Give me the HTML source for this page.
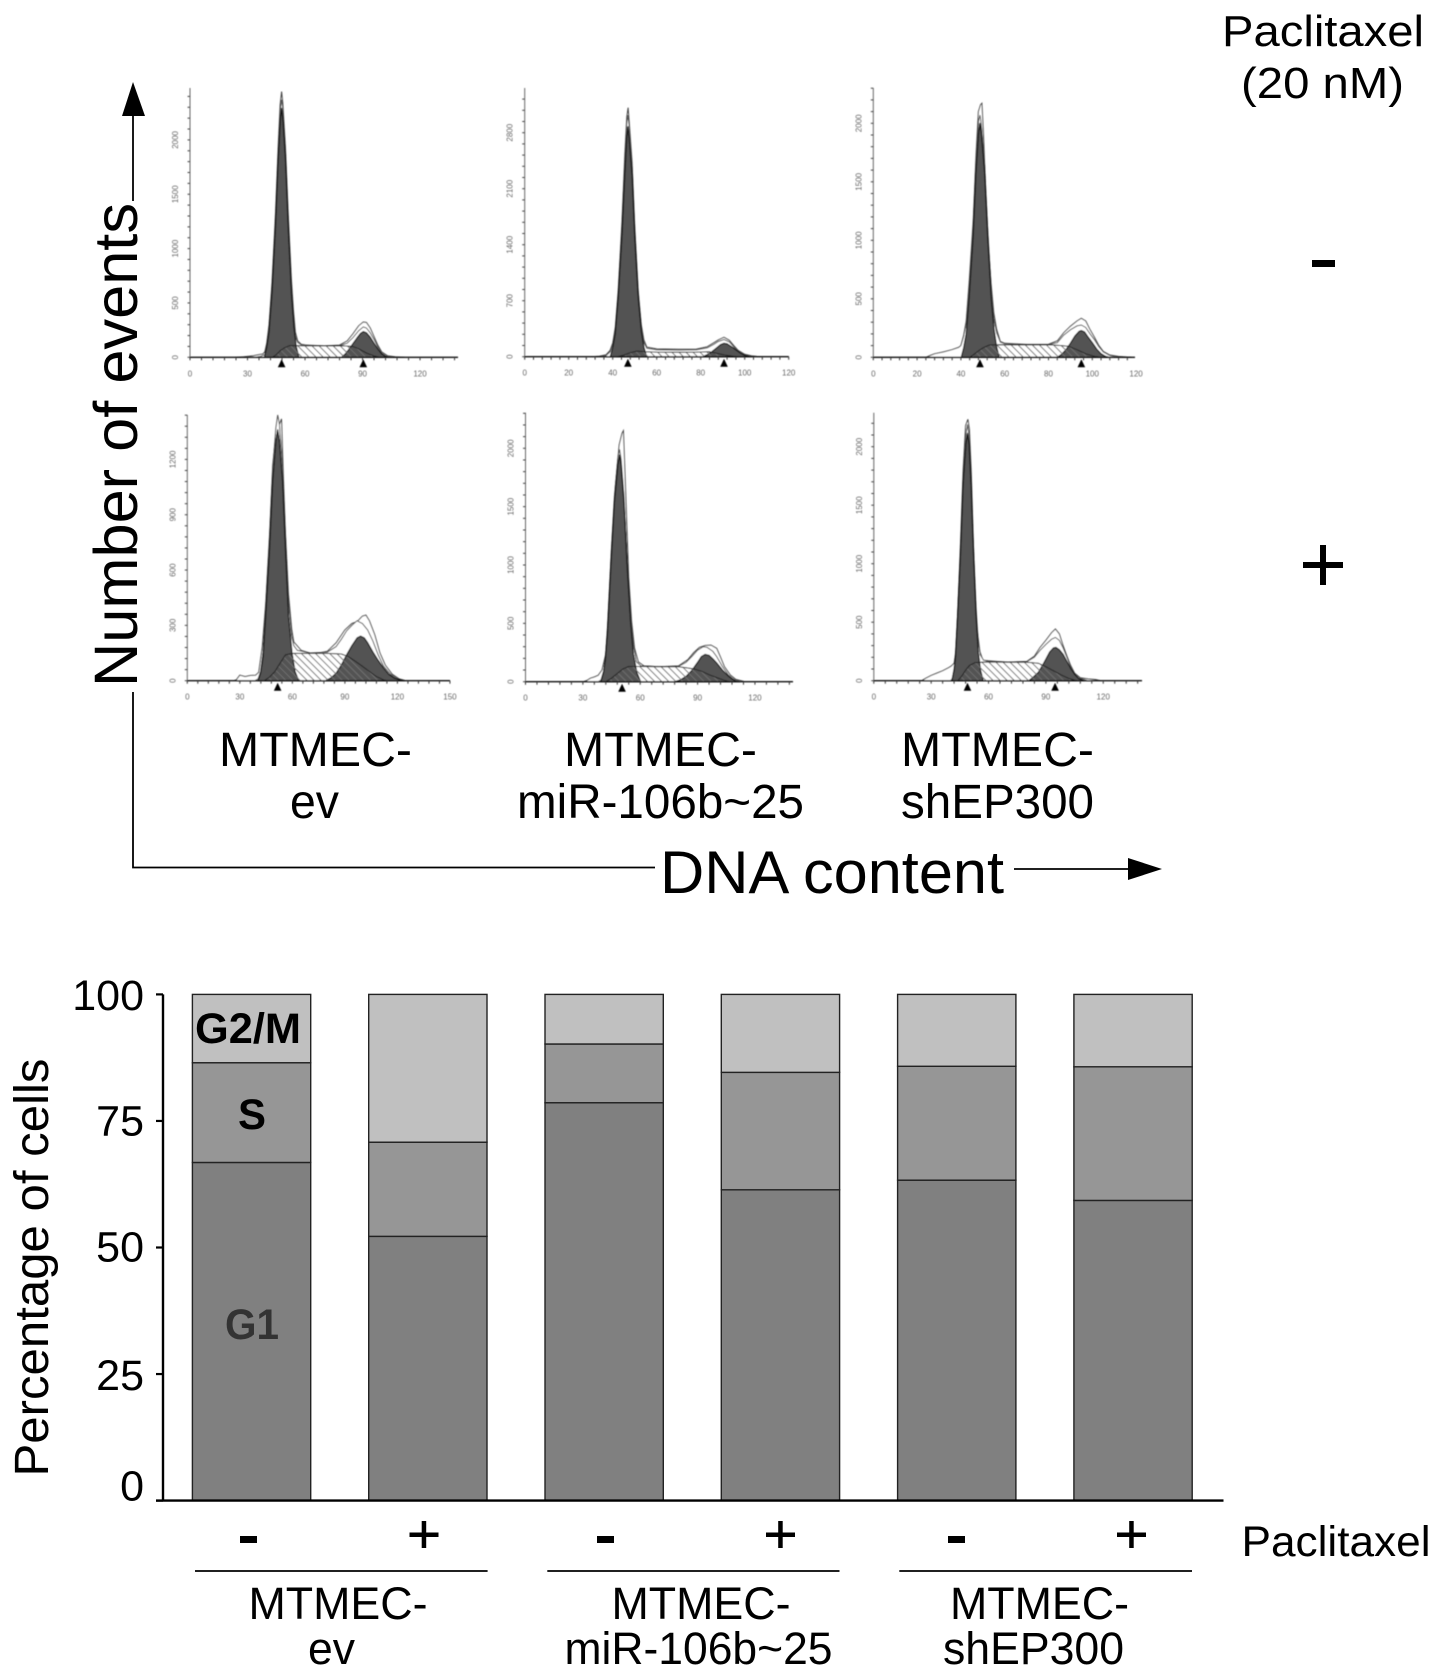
<!DOCTYPE html>
<html lang="en">
<head>
<meta charset="utf-8">
<title>Cell cycle analysis</title>
<style>
html,body{margin:0;padding:0;background:#fff}
svg{display:block}
text{font-family:"Liberation Sans",sans-serif;fill:#000}
</style>
</head>
<body>
<svg id="fig" xmlns="http://www.w3.org/2000/svg" width="1441" height="1677" viewBox="0 0 1441 1677">
<defs>
<pattern id="hatch" width="5" height="5" patternUnits="userSpaceOnUse" patternTransform="rotate(-45)">
<line x1="1" y1="0" x2="1" y2="5" stroke="#6e6e6e" stroke-width="1"/>
</pattern>
<filter id="soft" x="-5%" y="-5%" width="110%" height="110%"><feGaussianBlur stdDeviation="0.4"/></filter>
</defs>
<rect width="1441" height="1677" fill="#fff"/>

<g id="histograms" filter="url(#soft)"></g>

<!-- Upper panel annotations -->
<text x="1222" y="46" font-size="44" textLength="202" lengthAdjust="spacingAndGlyphs">Paclitaxel</text>
<text x="1241" y="98" font-size="44" textLength="163" lengthAdjust="spacingAndGlyphs">(20 nM)</text>
<rect x="1312" y="260" width="23" height="7" fill="#000"/>
<g>
<rect x="1303" y="562" width="40" height="6" fill="#000"/>
<rect x="1320" y="545" width="6" height="40" fill="#000"/>
</g>
<text transform="translate(137,687) rotate(-90)" font-size="61" textLength="484" lengthAdjust="spacingAndGlyphs">Number of events</text>
<line x1="133" y1="116" x2="133" y2="201" stroke="#000" stroke-width="1.8"/>
<polygon points="133,82 145,116 122,116" fill="#000"/>
<polyline points="133,692 133,867.5 655,867.5" fill="none" stroke="#000" stroke-width="1.8"/>
<text x="660" y="893" font-size="60" textLength="344" lengthAdjust="spacingAndGlyphs">DNA content</text>
<line x1="1014" y1="869" x2="1129" y2="869" stroke="#000" stroke-width="1.8"/>
<polygon points="1162,869 1128,858 1128,880" fill="#000"/>

<g font-size="48">
<text x="219" y="766" textLength="193" lengthAdjust="spacingAndGlyphs">MTMEC-</text>
<text x="290" y="818" textLength="49" lengthAdjust="spacingAndGlyphs">ev</text>
<text x="564" y="766" textLength="193" lengthAdjust="spacingAndGlyphs">MTMEC-</text>
<text x="517" y="818" textLength="287" lengthAdjust="spacingAndGlyphs">miR-106b~25</text>
<text x="901" y="766" textLength="193" lengthAdjust="spacingAndGlyphs">MTMEC-</text>
<text x="901" y="818" textLength="193" lengthAdjust="spacingAndGlyphs">shEP300</text>
</g>

<g id="bar-chart"></g>

<!-- Lower chart labels -->
<text transform="translate(48,1476.5) rotate(-90)" font-size="48" textLength="418" lengthAdjust="spacingAndGlyphs">Percentage of cells</text>
<text x="195" y="1043" font-size="43" font-weight="bold" textLength="106" lengthAdjust="spacingAndGlyphs">G2/M</text>
<text x="238" y="1129" font-size="43" font-weight="bold" textLength="28" lengthAdjust="spacingAndGlyphs">S</text>
<text x="225" y="1339" font-size="43" font-weight="bold" style="fill:#333" textLength="54" lengthAdjust="spacingAndGlyphs">G1</text>

<g>
<rect x="240" y="1536" width="17" height="7" fill="#000"/>
<rect x="597" y="1536" width="17" height="7" fill="#000"/>
<rect x="948" y="1536" width="17" height="7" fill="#000"/>
<rect x="409.5" y="1532.5" width="29" height="4.5" fill="#000"/><rect x="421.7" y="1521" width="4.5" height="27" fill="#000"/>
<rect x="766" y="1532.5" width="29" height="4.5" fill="#000"/><rect x="778.2" y="1521" width="4.5" height="27" fill="#000"/>
<rect x="1117" y="1532.5" width="29" height="4.5" fill="#000"/><rect x="1129.2" y="1521" width="4.5" height="27" fill="#000"/>
</g>
<text x="1241.5" y="1556" font-size="43" textLength="189" lengthAdjust="spacingAndGlyphs">Paclitaxel</text>
<g stroke="#000" stroke-width="1.8">
<line x1="195" y1="1571" x2="487.6" y2="1571"/>
<line x1="547.3" y1="1571" x2="839.5" y2="1571"/>
<line x1="899.3" y1="1571" x2="1192" y2="1571"/>
</g>
<g font-size="45">
<text x="248.5" y="1619" textLength="179" lengthAdjust="spacingAndGlyphs">MTMEC-</text>
<text x="308" y="1664" textLength="47" lengthAdjust="spacingAndGlyphs">ev</text>
<text x="611.5" y="1619" textLength="179" lengthAdjust="spacingAndGlyphs">MTMEC-</text>
<text x="564.5" y="1664" textLength="268" lengthAdjust="spacingAndGlyphs">miR-106b~25</text>
<text x="950" y="1619" textLength="179" lengthAdjust="spacingAndGlyphs">MTMEC-</text>
<text x="943" y="1664" textLength="181" lengthAdjust="spacingAndGlyphs">shEP300</text>
</g>
</svg>

<script>
// ===== Stacked bar data (percent of cells) =====
const barCategories = ["ev -", "ev +", "miR -", "miR +", "shEP300 -", "shEP300 +"];
const g1Values = [66.8, 52.2, 78.6, 61.4, 63.3, 59.3];
const sValues = [19.7, 18.6, 11.6, 23.2, 22.5, 26.4];
const g2mValues = [13.5, 29.2, 9.8, 15.4, 14.2, 14.3];
const barTickValues = [100, 75, 50, 25, 0];
const barTickLabels = ["100", "75", "50", "25", "0"];

// ===== Histogram data: [channel, count] pairs =====
const evMinusG1 = [[38.8,0],[40,90],[41.2,230],[42.8,590],[44.6,1200],[46,1815],[47.2,2200],[47.8,2290],[48.4,2200],[49.8,1815],[51.2,1200],[52.9,590],[54.2,280],[55.4,100],[56.8,0]];
const evMinusS = [[43,0],[45,25],[47,60],[49,85],[52,108],[56,108],[60,105],[70,104],[80,105],[85,100],[88,78],[92,40],[96,12],[99,0]];
const evMinusG2 = [[79,0],[81,30],[83,75],[85,125],[87,175],[89,220],[90.4,236],[92,225],[94,185],[96,130],[98,75],[100,30],[102,8],[104,0]];
const evMinusFit = [[34,0],[37,10],[39,25],[40,110],[41.2,270],[42.8,640],[44.6,1270],[46,1880],[47.2,2290],[47.8,2370],[48.4,2290],[49.8,1880],[51.2,1270],[52.9,650],[54,360],[55,190],[56.2,135],[58,115],[70,105],[78,107],[82,130],[85,180],[88,245],[90.4,280],[92,270],[94,225],[96,165],[98,95],[100,40],[102,15],[106,0]];
const evMinusRaw = [[24,0],[28,5],[33,15],[36,25],[38,30],[39,50],[40,130],[41.2,300],[42.8,690],[44.6,1330],[46,1950],[47,2320],[47.8,2445],[48.4,2340],[49.8,1930],[51.2,1330],[52.9,720],[54,430],[55,230],[56.2,150],[58,120],[62,108],[70,105],[78,112],[82,150],[85,215],[88,290],[90.4,325],[92,320],[94,270],[96,190],[98,110],[100,50],[103,15],[107,5],[112,0]];

const miRMinusG1 = [[38.9,0],[40,110],[41.2,290],[42.5,740],[44.2,1500],[45.5,2270],[46.4,2750],[46.9,2875],[47.4,2750],[48.8,2270],[50,1500],[51.6,740],[53,320],[54.2,120],[55.4,0]];
const miRMinusS = [[42,0],[45,20],[48,50],[51,70],[55,62],[60,58],[70,56],[78,58],[84,62],[87,45],[91,20],[95,5],[97,0]];
const miRMinusG2 = [[81,0],[83,25],[85,60],[87,105],[89,150],[90.6,167],[92,160],[94,125],[96,85],[98,45],[100,18],[102,5],[104,0]];
const miRMinusFit = [[33,0],[37,15],[38.8,60],[40,150],[41.2,330],[42.5,790],[44.2,1600],[45.5,2450],[46.4,2920],[46.9,3020],[47.4,2900],[48.8,2380],[50,1600],[51.6,800],[53,370],[54.2,180],[55.5,105],[60,85],[70,82],[78,85],[83,110],[86,155],[88,190],[90.6,215],[93,185],[95,125],[97,70],[100,25],[103,8],[107,0]];
const miRMinusRaw = [[30,0],[34,8],[37,25],[38.8,80],[40,170],[41.2,370],[42.5,830],[44.2,1680],[45.5,2530],[46.4,3000],[47,3112],[47.6,2900],[48.8,2430],[50,1650],[51.6,830],[53,400],[54.2,210],[55.5,120],[60,98],[70,92],[78,95],[83,125],[86,175],[88,210],[90.6,242],[93,205],[95,140],[97,80],[100,30],[103,12],[107,0]];

const shMinusG1 = [[40.2,0],[41.3,80],[42.4,200],[43.8,520],[45.6,1040],[46.9,1580],[48.1,1920],[48.7,2000],[49.3,1920],[50.8,1580],[52.2,1040],[53.8,520],[55.1,240],[56.3,90],[57.5,0]];
const shMinusS = [[44,0],[46,25],[48,55],[50,80],[53,105],[58,108],[65,105],[75,105],[82,105],[86,100],[89,95],[93,65],[97,30],[101,8],[104,0]];
const shMinusG2 = [[84,0],[86,25],[88,65],[90,120],[92,180],[94,222],[95,228],[96.5,215],[98,175],[100,125],[102,70],[104,30],[106,8],[108,0]];
const shMinusFit = [[24,0],[26,15],[28,30],[32,45],[36,65],[39,85],[40,100],[41.3,180],[42.4,290],[43.8,620],[45.6,1130],[46.9,1680],[48.1,2020],[48.7,2070],[49.3,1990],[50.8,1650],[52.2,1110],[53.8,600],[55,330],[56.3,210],[58,130],[60,115],[70,108],[80,108],[84,125],[87,190],[90,235],[93,268],[95,276],[97,255],[99,200],[101,150],[103,90],[105,45],[108,15],[112,3],[118,0]];
const shMinusRaw = [[24,0],[26,15],[28,30],[32,45],[36,65],[39,85],[40,100],[41.3,190],[42.4,310],[43.8,650],[45.6,1170],[46.9,1730],[48,2100],[49,2160],[49.6,2171],[50.3,1900],[51.3,1450],[52.6,950],[53.8,630],[55,380],[56.3,240],[58,135],[60,120],[70,110],[80,112],[84,140],[87,210],[90,265],[93,310],[95,333],[97,310],[99,235],[101,170],[103,100],[105,50],[108,20],[112,8],[118,0]];

const evPlusG1 = [[40.4,0],[41.8,40],[43.3,130],[44.8,350],[47,720],[48.8,1080],[50.6,1300],[51.6,1360],[52.6,1300],[54.4,1080],[56,720],[57.8,350],[59.8,150],[61.5,50],[63.6,0]];
const evPlusS = [[44,0],[47,20],[50,50],[53,95],[56,140],[60,148],[70,148],[80,148],[88,145],[92,130],[96,105],[100,78],[104,50],[108,22],[112,5],[114,0]];
const evPlusG2 = [[79,0],[82,15],[85,40],[88,85],[91,140],[94,190],[97,232],[99,242],[101,232],[103,205],[106,155],[109,110],[112,70],[115,35],[118,15],[122,3],[124,0]];
const evPlusFit = [[38.5,0],[40.4,10],[41.8,50],[43.3,160],[44.8,400],[47,780],[48.8,1150],[50.6,1370],[51.6,1441],[52.6,1390],[54.4,1160],[56,790],[57.8,430],[59.6,240],[60.8,190],[62.8,165],[70,150],[80,155],[85,185],[88,225],[91,270],[94,300],[97,325],[100,310],[103,275],[106,215],[109,140],[112,80],[116,35],[120,10],[124,0]];
const evPlusRaw = [[26,0],[28,5],[30,30],[33,22],[36,28],[39,30],[40.8,45],[42.8,180],[44.8,420],[47,800],[48.8,1170],[50.6,1340],[51.8,1400],[52.8,1395],[53.8,1420],[54.8,1120],[56,810],[57.8,470],[59.6,280],[60.8,210],[65,165],[70,150],[75,150],[80,160],[85,205],[90,275],[94,310],[97,320],[100,350],[102,356],[104,325],[107,250],[110,150],[113,85],[117,35],[121,10],[125,0]];

const miRPlusG1 = [[39.4,0],[40.8,80],[41.8,190],[42.9,420],[44.7,1010],[46.5,1535],[48.4,1865],[49.2,1943],[50,1865],[51.5,1535],[53.1,1010],[54.9,520],[56.4,240],[58.2,80],[60.2,0]];
const miRPlusS = [[42,0],[45,30],[48,70],[51,110],[54,130],[60,130],[70,128],[80,128],[84,120],[88,110],[92,90],[96,60],[100,35],[104,12],[107,0]];
const miRPlusG2 = [[78,0],[81,15],[84,45],[87,95],[90,165],[92,215],[94,234],[96,225],[98,195],[100,160],[103,100],[106,50],[108,22],[110,5],[112,0]];
const miRPlusFit = [[38,0],[39.5,15],[40.8,90],[41.8,210],[42.9,450],[44.7,1060],[46.5,1590],[48.4,1930],[49.2,1990],[50,1910],[51.5,1590],[53.1,1070],[54.9,600],[56.4,320],[58,170],[60.4,135],[70,128],[80,130],[84,165],[87,215],[90,270],[93,300],[95,295],[98,260],[100,215],[103,130],[106,60],[109,20],[113,0]];
const miRPlusRaw = [[30,0],[32,10],[34,30],[36,40],[38,55],[40,100],[42,240],[43,500],[45,1150],[47,1680],[49,2030],[50.5,2130],[51.2,2151],[52,1800],[53,1350],[54,900],[55.5,520],[57,290],[59,170],[62,135],[70,128],[80,135],[85,190],[88,250],[91,295],[94,310],[97,314],[100,285],[102,210],[104,130],[107,60],[110,20],[115,0]];

const shPlusG1 = [[40.8,0],[42,90],[42.8,210],[43.9,550],[45.4,1100],[46.7,1670],[48.2,2030],[49,2114],[49.8,2030],[50.9,1670],[52.1,1100],[53.5,550],[54.6,250],[55.8,90],[57.2,0]];
const shPlusS = [[44,0],[46,40],[48,90],[50,130],[53,155],[58,160],[70,158],[80,158],[86,150],[90,120],[94,85],[98,50],[102,20],[106,0]];
const shPlusG2 = [[81,0],[83,25],[86,70],[88,125],[90,185],[92,245],[94,280],[95.2,285],[97,265],[99,225],[101,165],[103,105],[105,55],[107,20],[110,0]];
const shPlusFit = [[40,0],[41,15],[42,110],[42.8,240],[43.9,590],[45.4,1150],[46.7,1730],[48.2,2110],[49,2190],[49.8,2100],[50.9,1730],[52.1,1160],[53.5,620],[54.6,340],[55.7,220],[57.4,175],[60,165],[70,160],[80,162],[84,200],[87,260],[90,310],[93,355],[95,370],[97,345],[99,280],[101,200],[103,120],[105,60],[108,20],[112,0]];
const shPlusRaw = [[25,0],[27,20],[30,45],[33,65],[36,85],[39,110],[40.5,125],[42,150],[43,260],[44,620],[45.4,1200],[46.7,1800],[48,2180],[49.2,2234],[50,2150],[51,1780],[52,1230],[53,750],[54,450],[55.5,250],[57,175],[60,170],[70,158],[80,165],[84,210],[87,285],[90,345],[93,410],[95,442],[97,400],[99,300],[101,210],[103,130],[105,65],[108,25],[112,15],[116,10],[119,0]];

// Peak-marker channels and axis tick values per panel
const evMinusPeaks = [47.8, 90.4];
const miRMinusPeaks = [46.9, 90.6];
const shMinusPeaks = [48.7, 95];
const evPlusPeaks = [51.6];
const miRPlusPeaks = [50.5];
const shPlusPeaks = [49, 94.8];
const evMinusXTicks = [0, 30, 60, 90, 120];
const evPlusXTicks = [0, 30, 60, 90, 120, 150];
const byTwentyXTicks = [0, 20, 40, 60, 80, 100, 120];
const byThirtyXTicks = [0, 30, 60, 90, 120];
const evMinusYTicks = [0, 500, 1000, 1500, 2000];
const miRMinusYTicks = [0, 700, 1400, 2100, 2800];
const shMinusYTicks = [0, 500, 1000, 1500, 2000];
const evPlusYTicks = [0, 300, 600, 900, 1200];
const miRPlusYTicks = [0, 500, 1000, 1500, 2000];
const shPlusYTicks = [0, 500, 1000, 1500, 2000];

const SVGNS = "http://www.w3.org/2000/svg";
function make(parent, tag, attrs, text) {
  const el = document.createElementNS(SVGNS, tag);
  for (const k in attrs) el.setAttribute(k, attrs[k]);
  if (text !== undefined) el.textContent = text;
  parent.appendChild(el);
  return el;
}

// ===== Histogram panels =====
const panels = [
  {name:"ev-untreated", x0:190, xPer:1.917, y0:357.3, yPer:0.1087, top:88, xEnd:458, minorX:6, minorY:100,
   g1:evMinusG1, s:evMinusS, g2:evMinusG2, fit:evMinusFit, raw:evMinusRaw, peaks:evMinusPeaks, xTicks:evMinusXTicks, yTicks:evMinusYTicks},
  {name:"mir-untreated", x0:524.7, xPer:2.2, y0:356.7, yPer:0.08, top:88, xEnd:788.8, minorX:4, minorY:140,
   g1:miRMinusG1, s:miRMinusS, g2:miRMinusG2, fit:miRMinusFit, raw:miRMinusRaw, peaks:miRMinusPeaks, xTicks:byTwentyXTicks, yTicks:miRMinusYTicks},
  {name:"sh-untreated", x0:873.3, xPer:2.19, y0:357.3, yPer:0.117, top:88, xEnd:1135, minorX:4, minorY:100,
   g1:shMinusG1, s:shMinusS, g2:shMinusG2, fit:shMinusFit, raw:shMinusRaw, peaks:shMinusPeaks, xTicks:byTwentyXTicks, yTicks:shMinusYTicks},
  {name:"ev-paclitaxel", x0:187.3, xPer:1.751, y0:680.7, yPer:0.1844, top:415, xEnd:450, minorX:6, minorY:60,
   g1:evPlusG1, s:evPlusS, g2:evPlusG2, fit:evPlusFit, raw:evPlusRaw, peaks:evPlusPeaks, xTicks:evPlusXTicks, yTicks:evPlusYTicks},
  {name:"mir-paclitaxel", x0:525.5, xPer:1.912, y0:681.7, yPer:0.1167, top:412.7, xEnd:793, minorX:6, minorY:100,
   g1:miRPlusG1, s:miRPlusS, g2:miRPlusG2, fit:miRPlusFit, raw:miRPlusRaw, peaks:miRPlusPeaks, xTicks:byThirtyXTicks, yTicks:miRPlusYTicks},
  {name:"sh-paclitaxel", x0:873.8, xPer:1.912, y0:680.7, yPer:0.117, top:412.7, xEnd:1142, minorX:6, minorY:100,
   g1:shPlusG1, s:shPlusS, g2:shPlusG2, fit:shPlusFit, raw:shPlusRaw, peaks:shPlusPeaks, xTicks:byThirtyXTicks, yTicks:shPlusYTicks}
];

const histRoot = document.getElementById("histograms");
panels.forEach(function (p) {
  const xScale = function (ch) { return p.x0 + ch * p.xPer; };
  const yScale = function (n) { return p.y0 - n * p.yPer; };
  const toPoints = function (series) {
    return series.map(function (d) { return xScale(d[0]).toFixed(1) + "," + yScale(d[1]).toFixed(1); }).join(" ");
  };
  const g = make(histRoot, "g", {});
  
  

  // y axis with minor ticks
  const yAxis = make(g, "line", {x1:p.x0, y1:p.top, x2:p.x0, y2:p.y0, stroke:"#666", "stroke-width":1});
  
  
  const maxCount = (p.y0 - p.top) / p.yPer;
  for (let n = 0; n <= maxCount; n += p.minorY) {
    const t = make(g, "line", {x1:p.x0 - 2.5, y1:yScale(n), x2:p.x0, y2:yScale(n), stroke:"#444", "stroke-width":1});
    
    
  }
  p.yTicks.forEach(function (v) {
    const lab = make(g, "text", {transform:"translate(" + (p.x0 - 12) + "," + yScale(v) + ") rotate(-90)", "font-size":8, "text-anchor":"middle", style:"fill:#666"}, String(v));
    
    
  });

  // raw histogram and fit envelope
  const raw = make(g, "polyline", {points:toPoints(p.raw), fill:"#fff", stroke:"#444", "stroke-width":1});
  
  
  const fit = make(g, "polyline", {points:toPoints(p.fit), fill:"#fff", stroke:"#555", "stroke-width":1});
  
  

  // S phase (white base + hatch), G1 and G2 peaks, then S overlay
  const sBase = make(g, "polygon", {points:toPoints(p.s), fill:"#fff"});
  
  
  const g1 = make(g, "polygon", {points:toPoints(p.g1), fill:"#525252", stroke:"#111", "stroke-width":1.2, "stroke-linejoin":"round"});
  
  
  const g2 = make(g, "polygon", {points:toPoints(p.g2), fill:"#525252", stroke:"#111", "stroke-width":1.2, "stroke-linejoin":"round"});
  
  
  const s = make(g, "polygon", {points:toPoints(p.s), fill:"url(#hatch)", stroke:"#222", "stroke-width":1, "stroke-linejoin":"round"});
  
  

  // x axis on top
  const xAxis = make(g, "line", {x1:p.x0, y1:p.y0, x2:p.xEnd, y2:p.y0, stroke:"#111", "stroke-width":1.3});
  
  
  const maxCh = (p.xEnd - p.x0) / p.xPer;
  for (let c = 0; c <= maxCh + 0.01; c += p.minorX) {
    const t = make(g, "line", {x1:xScale(c), y1:p.y0, x2:xScale(c), y2:p.y0 + 3, stroke:"#333", "stroke-width":1});
    
    
  }
  p.xTicks.forEach(function (v) {
    const lab = make(g, "text", {x:xScale(v), y:p.y0 + 19, "font-size":8, "text-anchor":"middle", style:"fill:#666"}, String(v));
    
    
  });
  p.peaks.forEach(function (ch) {
    const cx = xScale(ch);
    const tri = make(g, "polygon", {points:cx + "," + (p.y0 + 2) + " " + (cx + 3.8) + "," + (p.y0 + 10) + " " + (cx - 3.8) + "," + (p.y0 + 10), fill:"#000"});
    
    
  });
});

// ===== Stacked bars =====
const barRoot = document.getElementById("bar-chart");
const barY = function (pct) { return 1500.6 - pct * 5.062; };
const barLeft = function (i) { return 192.4 + i * 176.3; };
const barWidth = 118.3;
const tickLabelNudge = [15.8, 14.7, 14.2, 15.7, 0];

barCategories.forEach(function (cat, i) {
  const g = make(barRoot, "g", {});
  
  
  const stack = [
    {v:g1Values[i], fill:"#808080", name:"bar-segment-g1"},
    {v:sValues[i], fill:"#969696", name:"bar-segment-s"},
    {v:g2mValues[i], fill:"#c0c0c0", name:"bar-segment-g2m"}
  ];
  let acc = 0;
  stack.forEach(function (seg) {
    const top = barY(acc + seg.v);
    const bot = barY(acc);
    const r = make(g, "rect", {x:barLeft(i), y:top, width:barWidth, height:bot - top, fill:seg.fill, stroke:"#222", "stroke-width":1.4});
    
    
    acc += seg.v;
  });
});

const yAxisLine = make(barRoot, "line", {x1:163, y1:barY(100), x2:163, y2:barY(0), stroke:"#000", "stroke-width":2.4});


const xAxisLine = make(barRoot, "line", {x1:156, y1:barY(0), x2:1223.5, y2:barY(0), stroke:"#000", "stroke-width":2.4});


barTickValues.forEach(function (v, i) {
  const tick = make(barRoot, "line", {x1:156, y1:barY(v), x2:163, y2:barY(v), stroke:"#000", "stroke-width":2.2});
  
  
  const lab = make(barRoot, "text", {x:144, y:barY(v) + tickLabelNudge[i], "font-size":43, "text-anchor":"end"}, barTickLabels[i]);
  
  
});
</script>
</body>
</html>
